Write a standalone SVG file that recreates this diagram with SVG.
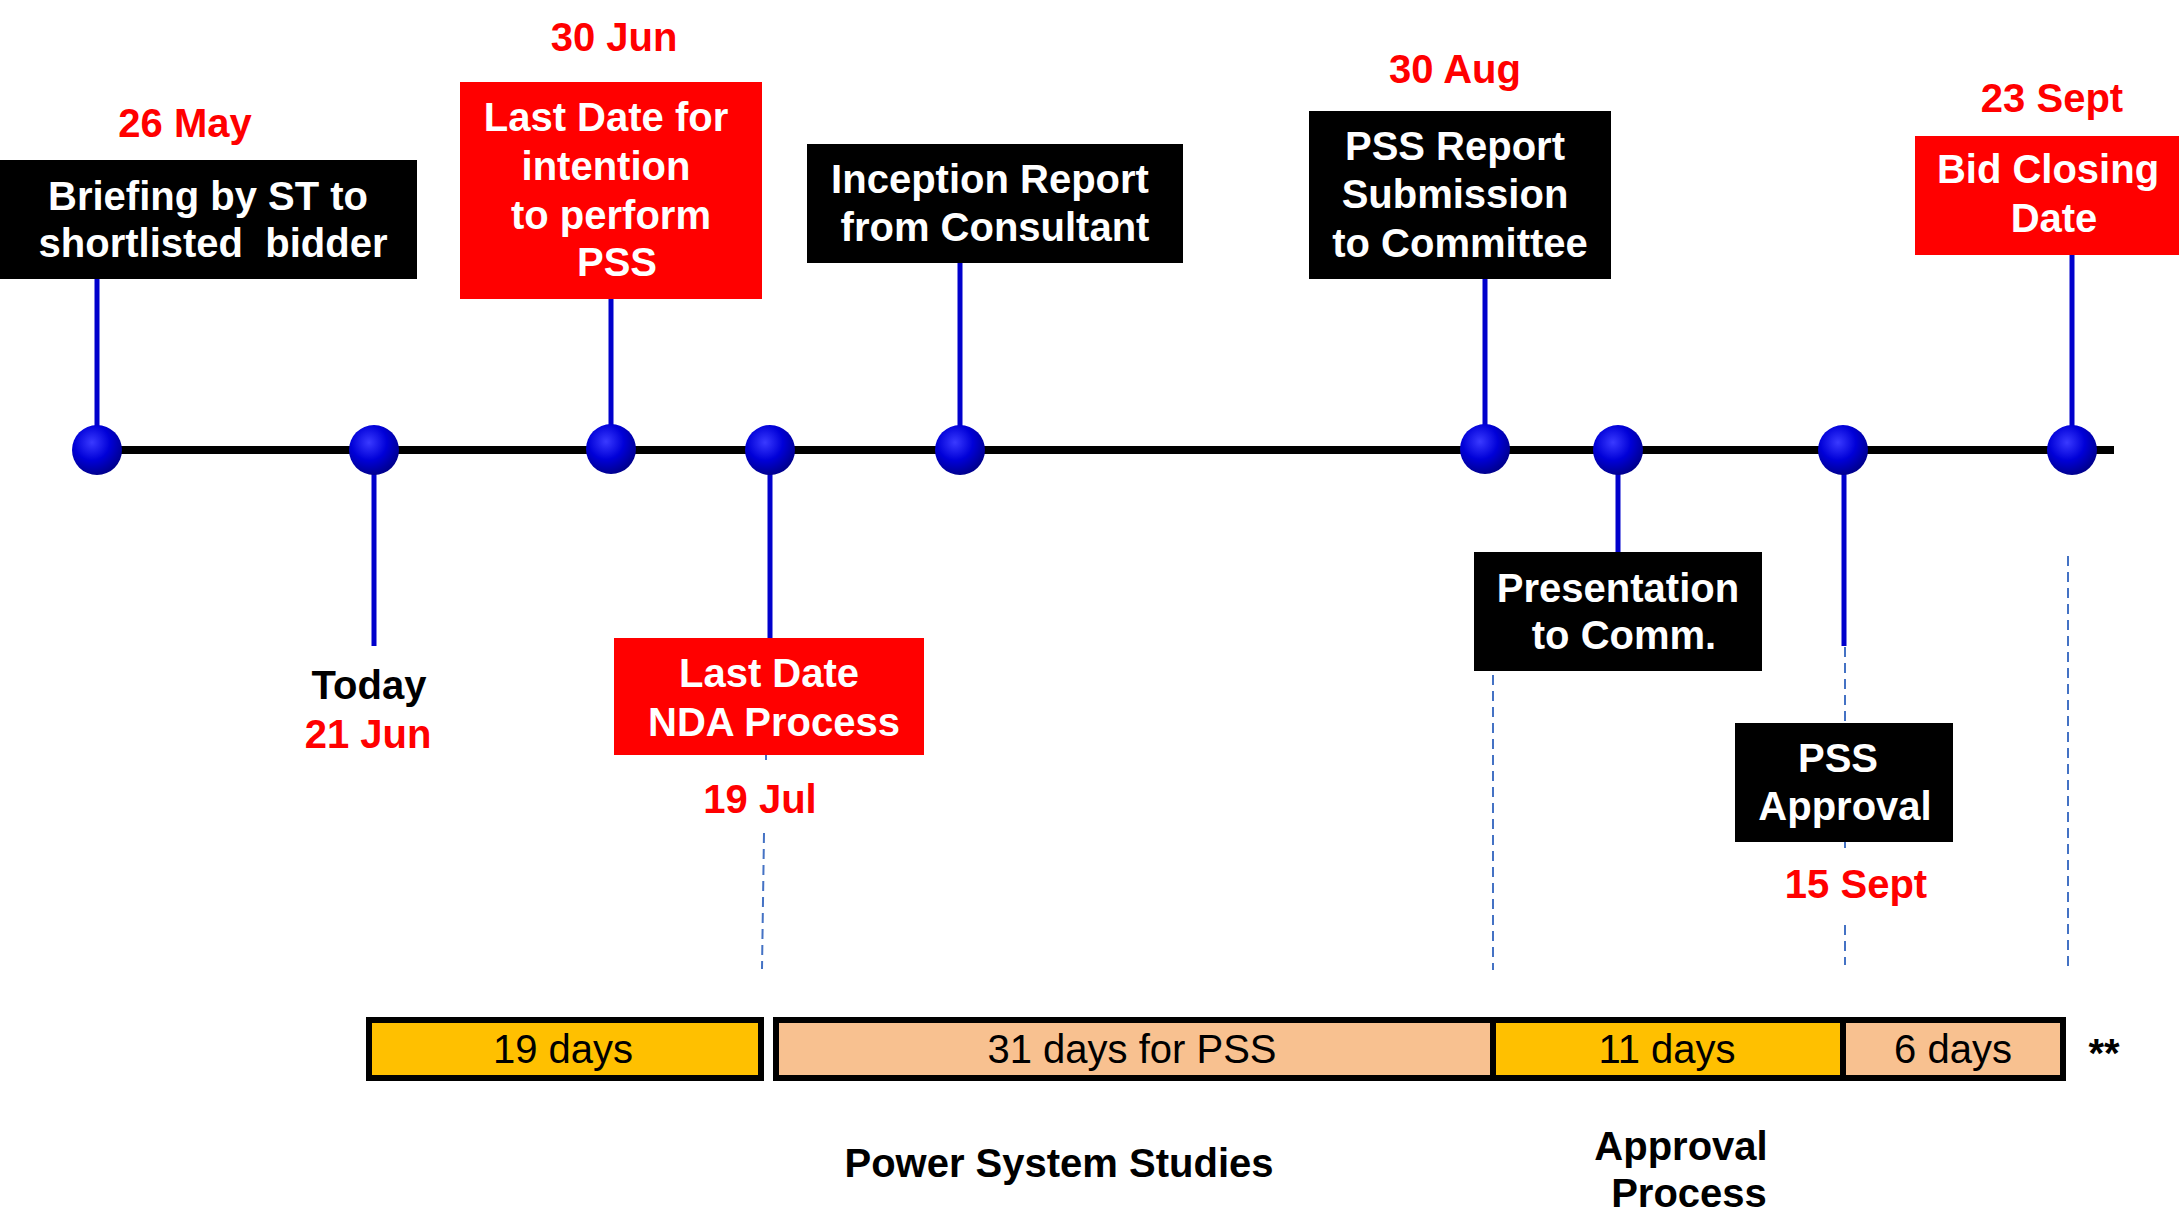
<svg xmlns="http://www.w3.org/2000/svg" width="2179" height="1215" viewBox="0 0 2179 1215">
<defs>
<radialGradient id="sph" cx="0.4" cy="0.35" r="0.65">
<stop offset="0" stop-color="#3a3aff"/>
<stop offset="0.55" stop-color="#0000d8"/>
<stop offset="1" stop-color="#000090"/>
</radialGradient>
<style>
.t{font-family:"Liberation Sans",Arial,sans-serif;font-weight:bold;font-size:40px;text-anchor:middle}
.w{fill:#fff}
.r{fill:#ff0000}
.k{fill:#000}
.n{font-family:"Liberation Sans",Arial,sans-serif;font-size:40px;text-anchor:middle;fill:#000}
.stem{stroke:#0000cc;stroke-width:5;fill:none}
.dash{stroke:#4472c4;stroke-width:2;stroke-dasharray:10 6;fill:none}
.bx{stroke:none}
.dot{fill:url(#sph)}
.bar{stroke:#000;stroke-width:6}
</style>
</defs>
<rect width="2179" height="1215" fill="#fff"/>

<g id="connectors">
<line class="stem" x1="97" y1="279" x2="97" y2="450"/>
<line class="stem" x1="374" y1="450" x2="374" y2="646"/>
<line class="stem" x1="611" y1="299" x2="611" y2="450"/>
<line class="stem" x1="770" y1="450" x2="770" y2="638"/>
<line class="stem" x1="960" y1="263" x2="960" y2="450"/>
<line class="stem" x1="1485" y1="279" x2="1485" y2="450"/>
<line class="stem" x1="1618" y1="450" x2="1618" y2="552"/>
<line class="stem" x1="1844" y1="450" x2="1844" y2="646"/>
<line class="stem" x1="2072" y1="255" x2="2072" y2="450"/>
<line x1="97" y1="450" x2="2114" y2="450" stroke="#000" stroke-width="8"/>
<line class="dash" x1="766" y1="755" x2="766" y2="760"/>
<line class="dash" x1="764" y1="833" x2="762" y2="969"/>
<line class="dash" x1="1493" y1="675" x2="1493" y2="970"/>
<line class="dash" x1="1845" y1="647" x2="1845" y2="723"/>
<line class="dash" x1="1845" y1="842" x2="1845" y2="848"/>
<line class="dash" x1="1845" y1="925" x2="1845" y2="965"/>
<line class="dash" x1="2068" y1="556" x2="2068" y2="970"/>
</g>

<g id="dots">
<ellipse class="dot" cx="97" cy="450" rx="25" ry="25"/>
<ellipse class="dot" cx="374" cy="450" rx="25" ry="25"/>
<ellipse class="dot" cx="611" cy="449" rx="25" ry="25"/>
<ellipse class="dot" cx="770" cy="450" rx="25" ry="25"/>
<ellipse class="dot" cx="960" cy="450" rx="25" ry="25"/>
<ellipse class="dot" cx="1485" cy="449" rx="25" ry="25"/>
<ellipse class="dot" cx="1618" cy="450" rx="25" ry="25"/>
<ellipse class="dot" cx="1843" cy="450" rx="25" ry="25"/>
<ellipse class="dot" cx="2072" cy="450" rx="25" ry="25"/>
</g>

<g id="briefing">
<text class="t r" x="185" y="137">26 May</text>
<rect class="bx" x="0" y="160" width="417" height="119" fill="#000"/>
<text class="t w" x="208" y="210">Briefing by ST to</text>
<text class="t w" x="213" y="257" xml:space="preserve">shortlisted  bidder</text>
</g>

<g id="today">
<text class="t k" x="369" y="699">Today</text>
<text class="t r" x="368" y="748">21 Jun</text>
</g>

<g id="intention">
<text class="t r" x="614" y="51">30 Jun</text>
<rect class="bx" x="460" y="82" width="302" height="217" fill="#ff0000"/>
<text class="t w" x="606" y="131">Last Date for</text>
<text class="t w" x="606" y="180">intention</text>
<text class="t w" x="611" y="229">to perform</text>
<text class="t w" x="617" y="276">PSS</text>
</g>

<g id="nda">
<rect class="bx" x="614" y="638" width="310" height="117" fill="#ff0000"/>
<text class="t w" x="769" y="687">Last Date</text>
<text class="t w" x="774" y="736">NDA Process</text>
<text class="t r" x="760" y="813">19 Jul</text>
</g>

<g id="inception">
<rect class="bx" x="807" y="144" width="376" height="119" fill="#000"/>
<text class="t w" x="990" y="193">Inception Report</text>
<text class="t w" x="995" y="241">from Consultant</text>
</g>

<g id="pss-report">
<text class="t r" x="1455" y="83">30 Aug</text>
<rect class="bx" x="1309" y="111" width="302" height="168" fill="#000"/>
<text class="t w" x="1455" y="160">PSS Report</text>
<text class="t w" x="1455" y="208">Submission</text>
<text class="t w" x="1460" y="257">to Committee</text>
</g>

<g id="presentation">
<rect class="bx" x="1474" y="552" width="288" height="119" fill="#000"/>
<text class="t w" x="1618" y="602">Presentation</text>
<text class="t w" x="1624" y="649">to Comm.</text>
</g>

<g id="pss-approval">
<rect class="bx" x="1735" y="723" width="218" height="119" fill="#000"/>
<text class="t w" x="1838" y="772">PSS</text>
<text class="t w" x="1845" y="820">Approval</text>
<text class="t r" x="1856" y="898">15 Sept</text>
</g>

<g id="bid-closing">
<text class="t r" x="2052" y="112">23 Sept</text>
<rect class="bx" x="1915" y="136" width="264" height="119" fill="#ff0000"/>
<text class="t w" x="2048" y="183">Bid Closing</text>
<text class="t w" x="2054" y="232">Date</text>
</g>

<g id="bars">
<rect class="bar" x="369" y="1020" width="392" height="58" fill="#ffc000"/>
<rect class="bar" x="776" y="1020" width="717" height="58" fill="#f8c190"/>
<rect class="bar" x="1493" y="1020" width="350" height="58" fill="#ffc000"/>
<rect class="bar" x="1843" y="1020" width="220" height="58" fill="#f8c190"/>
<text class="n" x="563" y="1063">19 days</text>
<text class="n" x="1132" y="1063">31 days for PSS</text>
<text class="n" x="1667" y="1063">11 days</text>
<text class="n" x="1953" y="1063">6 days</text>
<text class="t k" x="2104" y="1067">**</text>
</g>

<g id="phases">
<text class="t k" x="1059" y="1177">Power System Studies</text>
<text class="t k" x="1681" y="1160">Approval</text>
<text class="t k" x="1689" y="1207">Process</text>
</g>
</svg>
